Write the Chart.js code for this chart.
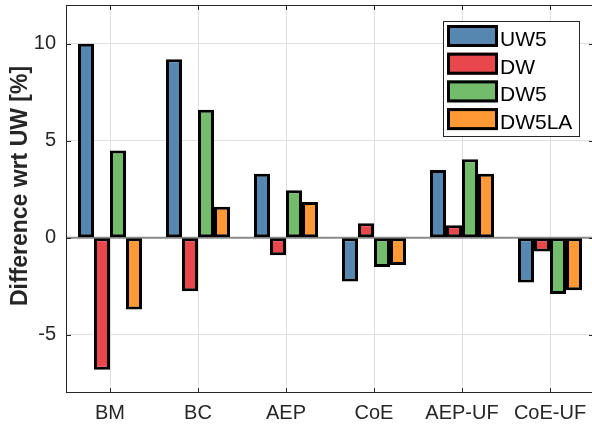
<!DOCTYPE html>
<html>
<head>
<meta charset="utf-8">
<script src="https://cdn.jsdelivr.net/npm/chart.js@4.4.1/dist/chart.umd.min.js"></script>
<style>
  html, body { margin: 0; padding: 0; background: #fff; overflow: hidden; width: 592px; height: 425px; }
  #wrap { position: relative; width: 600px; height: 425px; }
</style>
</head>
<body>
<div id="wrap"><canvas id="c"></canvas></div>
<script>
const categories = ['BM', 'BC', 'AEP', 'CoE', 'AEP-UF', 'CoE-UF'];
const seriesNames = ['UW5', 'DW', 'DW5', 'DW5LA'];
const uw5   = [10.0, 9.2, 3.3, -2.25, 3.5, -2.3];
const dw    = [-6.8, -2.75, -0.9, 0.75, 0.65, -0.7];
const dw5   = [4.5, 6.6, 2.45, -1.5, 4.05, -2.9];
const dw5la = [-3.7, 1.6, 1.85, -1.4, 3.3, -2.7];
const yTickValues = [-5, 0, 5, 10];
const yTitle = 'Difference wrt UW [%]';

const colors = ['#5587B1', '#E8474C', '#72BC6C', '#FF9933'];
const FONT = "'Liberation Sans', Arial, sans-serif";
const AXIS = '#262626';

const values = [uw5, dw, dw5, dw5la];
const datasets = seriesNames.map((n, i) => ({
  label: n,
  data: values[i],
  backgroundColor: colors[i],
  borderColor: '#000',
  borderWidth: 3,
  borderSkipped: false,
  barPercentage: 1.0,
  categoryPercentage: 0.727
}));

const framePlugin = {
  id: 'frame',
  beforeDatasetsDraw(chart) {
    const ctx = chart.ctx, a = chart.chartArea, y = chart.scales.y;
    const y0 = y.getPixelForValue(0);
    ctx.save();
    ctx.strokeStyle = '#8a8a8a';
    ctx.lineWidth = 2;
    ctx.beginPath();
    ctx.moveTo(a.left, y0); ctx.lineTo(a.right, y0);
    ctx.stroke();
    ctx.restore();
  },
  afterDraw(chart) {
    const ctx = chart.ctx, a = chart.chartArea, x = chart.scales.x, y = chart.scales.y;
    ctx.save();
    ctx.strokeStyle = AXIS;
    ctx.lineWidth = 1;
    ctx.strokeRect(a.left + 0.5, a.top + 0.5, a.right - a.left - 1, a.bottom - a.top - 1);
    const tl = 5;
    ctx.beginPath();
    yTickValues.forEach(v => {
      const py = Math.round(y.getPixelForValue(v)) + 0.5;
      ctx.moveTo(a.left, py); ctx.lineTo(a.left + tl, py);
      ctx.moveTo(a.right, py); ctx.lineTo(a.right - tl, py);
    });
    categories.forEach((c, i) => {
      const px = Math.round(x.getPixelForValue(i)) + 0.5;
      ctx.moveTo(px, a.bottom); ctx.lineTo(px, a.bottom - tl);
      ctx.moveTo(px, a.top); ctx.lineTo(px, a.top + tl);
    });
    ctx.stroke();

    // y-axis title
    ctx.save();
    ctx.translate(27, 186);
    ctx.rotate(-Math.PI / 2);
    ctx.font = 'bold 23px ' + FONT;
    ctx.fillStyle = AXIS;
    ctx.textAlign = 'center';
    ctx.textBaseline = 'alphabetic';
    ctx.fillText(yTitle, 0, 0);
    ctx.restore();

    // legend
    const lx = 443, ly = 21, lw = 136, lh = 115;
    ctx.fillStyle = '#fff';
    ctx.fillRect(lx, ly, lw, lh);
    ctx.strokeStyle = AXIS;
    ctx.lineWidth = 1;
    ctx.strokeRect(lx + 0.5, ly + 0.5, lw, lh);
    ctx.font = '21px ' + FONT;
    ctx.textBaseline = 'alphabetic';
    ctx.textAlign = 'left';
    chart.data.datasets.forEach((ds, i) => {
      const sy = ly + 4 + i * 27.7;
      ctx.fillStyle = ds.backgroundColor;
      ctx.fillRect(lx + 4, sy, 51, 22);
      ctx.strokeStyle = '#000';
      ctx.lineWidth = 3;
      ctx.strokeRect(lx + 5.5, sy + 1.5, 48, 19);
      ctx.fillStyle = '#000';
      ctx.fillText(ds.label, lx + 57, sy + 21);
    });
    ctx.restore();
  }
};

new Chart(document.getElementById('c'), {
  type: 'bar',
  data: { labels: categories, datasets },
  options: {
    responsive: true,
    maintainAspectRatio: false,
    devicePixelRatio: 1,
    animation: false,
    layout: { padding: { left: 0, right: 6, top: 5, bottom: 0 } },
    plugins: { legend: { display: false }, tooltip: { enabled: false } },
    scales: {
      x: {
        type: 'category',
        offset: true,
        grid: { display: true, offset: false, color: '#e0e0e0', lineWidth: 1, drawTicks: false },
        border: { display: false },
        ticks: { color: AXIS, font: { family: FONT, size: 20 }, padding: 8, maxRotation: 0, autoSkip: false },
        afterFit(s) { s.height = 32; s.paddingLeft = 0; s.paddingRight = 0; }
      },
      y: {
        min: -8, max: 12,
        afterBuildTicks(s) { s.ticks = yTickValues.map(v => ({ value: v })); },
        grid: { color: '#e0e0e0', lineWidth: 1, drawTicks: false },
        border: { display: false },
        ticks: { color: AXIS, font: { family: FONT, size: 20 }, padding: 10, callback: v => String(v) },
        title: { display: false, text: yTitle },
        afterFit(s) { s.width = 66; s.paddingTop = 0; s.paddingBottom = 0; }
      }
    }
  },
  plugins: [framePlugin]
});
</script>
</body>
</html>
